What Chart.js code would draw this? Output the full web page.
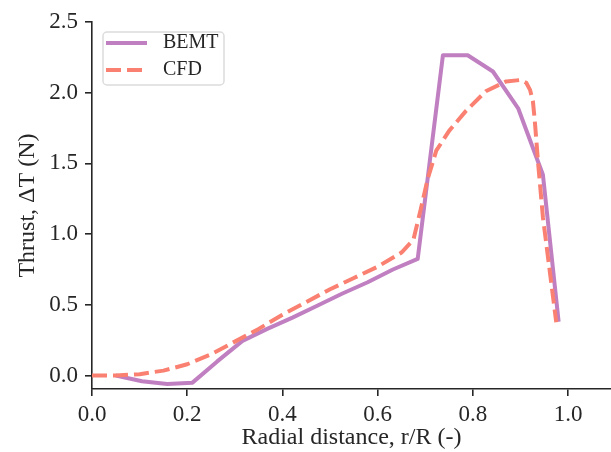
<!DOCTYPE html>
<html>
<head>
<meta charset="utf-8">
<script src="https://cdn.jsdelivr.net/npm/chart.js@4"></script>
<style>
  body { margin: 0; background: #fff; }
</style>
</head>
<body>
<canvas id="myChart" width="611" height="452"></canvas>
<script>
// BEMT prediction, r/R and thrust per element
const bemtR = [0.05, 0.105, 0.158, 0.211, 0.263, 0.316, 0.368, 0.421, 0.474, 0.526, 0.579, 0.632, 0.684, 0.737, 0.789, 0.842, 0.895, 0.947, 0.98];
const bemtT = [0.0, -0.04, -0.06, -0.05, 0.10, 0.245, 0.33, 0.41, 0.495, 0.58, 0.66, 0.75, 0.825, 2.265, 2.265, 2.15, 1.89, 1.42, 0.38];

// CFD result
const cfdR = [0.0, 0.05, 0.10, 0.15, 0.20, 0.25, 0.30, 0.35, 0.40, 0.45, 0.50, 0.55, 0.60, 0.65, 0.675, 0.69, 0.705, 0.723, 0.75, 0.785, 0.827, 0.87, 0.90, 0.912, 0.92, 0.926, 0.93, 0.937, 0.947, 0.975];
const cfdT = [0.0, 0.0, 0.01, 0.035, 0.08, 0.15, 0.24, 0.33, 0.43, 0.52, 0.61, 0.69, 0.77, 0.87, 0.96, 1.17, 1.39, 1.59, 1.73, 1.87, 2.01, 2.08, 2.09, 2.07, 2.02, 1.94, 1.80, 1.50, 1.12, 0.377];

const seriesNames = ['BEMT', 'CFD'];
const xTicks = [0.0, 0.2, 0.4, 0.6, 0.8, 1.0];
const yTicks = [0.0, 0.5, 1.0, 1.5, 2.0, 2.5];

const fam = '"Liberation Serif", "Times New Roman", serif';
const ink = '#262626';

function toPoints(xs, ys) {
    return xs.map(function(x, i) { return {x: x, y: ys[i]}; });
}

// legend drawn inside the plot, matplotlib style
const legendBox = {
    id: 'legendBox',
    afterDatasetsDraw(chart) {
        const ctx = chart.ctx;
        ctx.save();
        ctx.beginPath();
        ctx.roundRect(103, 32, 121, 53, 4);
        ctx.fillStyle = 'rgba(255,255,255,0.8)';
        ctx.fill();
        ctx.strokeStyle = '#dcdcdc';
        ctx.lineWidth = 1.5;
        ctx.stroke();
        chart.data.datasets.forEach(function(ds, i) {
            const y = 43 + i * 27;
            ctx.beginPath();
            ctx.setLineDash(ds.borderDash || []);
            ctx.strokeStyle = ds.borderColor;
            ctx.lineWidth = ds.borderWidth;
            ctx.moveTo(106, y);
            ctx.lineTo(147, y);
            ctx.stroke();
            ctx.setLineDash([]);
            ctx.fillStyle = ink;
            ctx.font = '20px ' + fam;
            ctx.textBaseline = 'middle';
            ctx.fillText(ds.label, 163, y);
        });
        ctx.restore();
    }
};

const axisGrid = {display: true, drawOnChartArea: false, drawTicks: true, tickLength: 7, tickWidth: 1.6, tickColor: ink, color: ink, lineWidth: 1.6};

const ctx = document.getElementById('myChart');
const myChart = new Chart(ctx, {
    type: 'line',
    data: {
        datasets: [{
            label: seriesNames[0],
            data: toPoints(bemtR, bemtT),
            borderColor: '#c07fc0',
            borderWidth: 4,
            borderJoinStyle: 'round',
            pointRadius: 0,
            order: 1
        }, {
            label: seriesNames[1],
            data: toPoints(cfdR, cfdT),
            borderColor: '#fa8072',
            borderWidth: 4,
            borderDash: [15, 6],
            borderJoinStyle: 'round',
            pointRadius: 0,
            order: 0
        }]
    },
    options: {
        responsive: false,
        animation: false,
        devicePixelRatio: 1,
        layout: {padding: {top: 22, right: 0, left: 0, bottom: 0}},
        plugins: {
            legend: {display: false},
            tooltip: {enabled: false}
        },
        scales: {
            x: {
                type: 'linear',
                min: 0,
                max: 1.09,
                afterBuildTicks: function(s) { s.ticks = xTicks.map(function(v) { return {value: v}; }); },
                afterFit: function(s) { s.height = 63; },
                border: {display: true, color: ink, width: 1.6},
                grid: axisGrid,
                ticks: {color: ink, font: {family: fam, size: 23}, padding: 5, maxRotation: 0, autoSkip: false,
                    callback: function(v) { return v.toFixed(1); }},
                title: {display: true, text: 'Radial distance, r/R (-)', color: ink, font: {family: fam, size: 24}, padding: {top: 0, bottom: 0}}
            },
            y: {
                type: 'linear',
                min: -0.095,
                max: 2.5,
                afterBuildTicks: function(s) { s.ticks = yTicks.map(function(v) { return {value: v}; }); },
                afterFit: function(s) { s.width = 92; },
                border: {display: true, color: ink, width: 1.6},
                grid: axisGrid,
                ticks: {color: ink, font: {family: fam, size: 23}, padding: 7, autoSkip: false,
                    callback: function(v) { return v.toFixed(1); }},
                title: {display: true, text: 'Thrust, \u0394T (N)', color: ink, font: {family: fam, size: 24}, padding: {top: 13, bottom: 0}}
            }
        }
    },
    plugins: [legendBox]
});
</script>
</body>
</html>
